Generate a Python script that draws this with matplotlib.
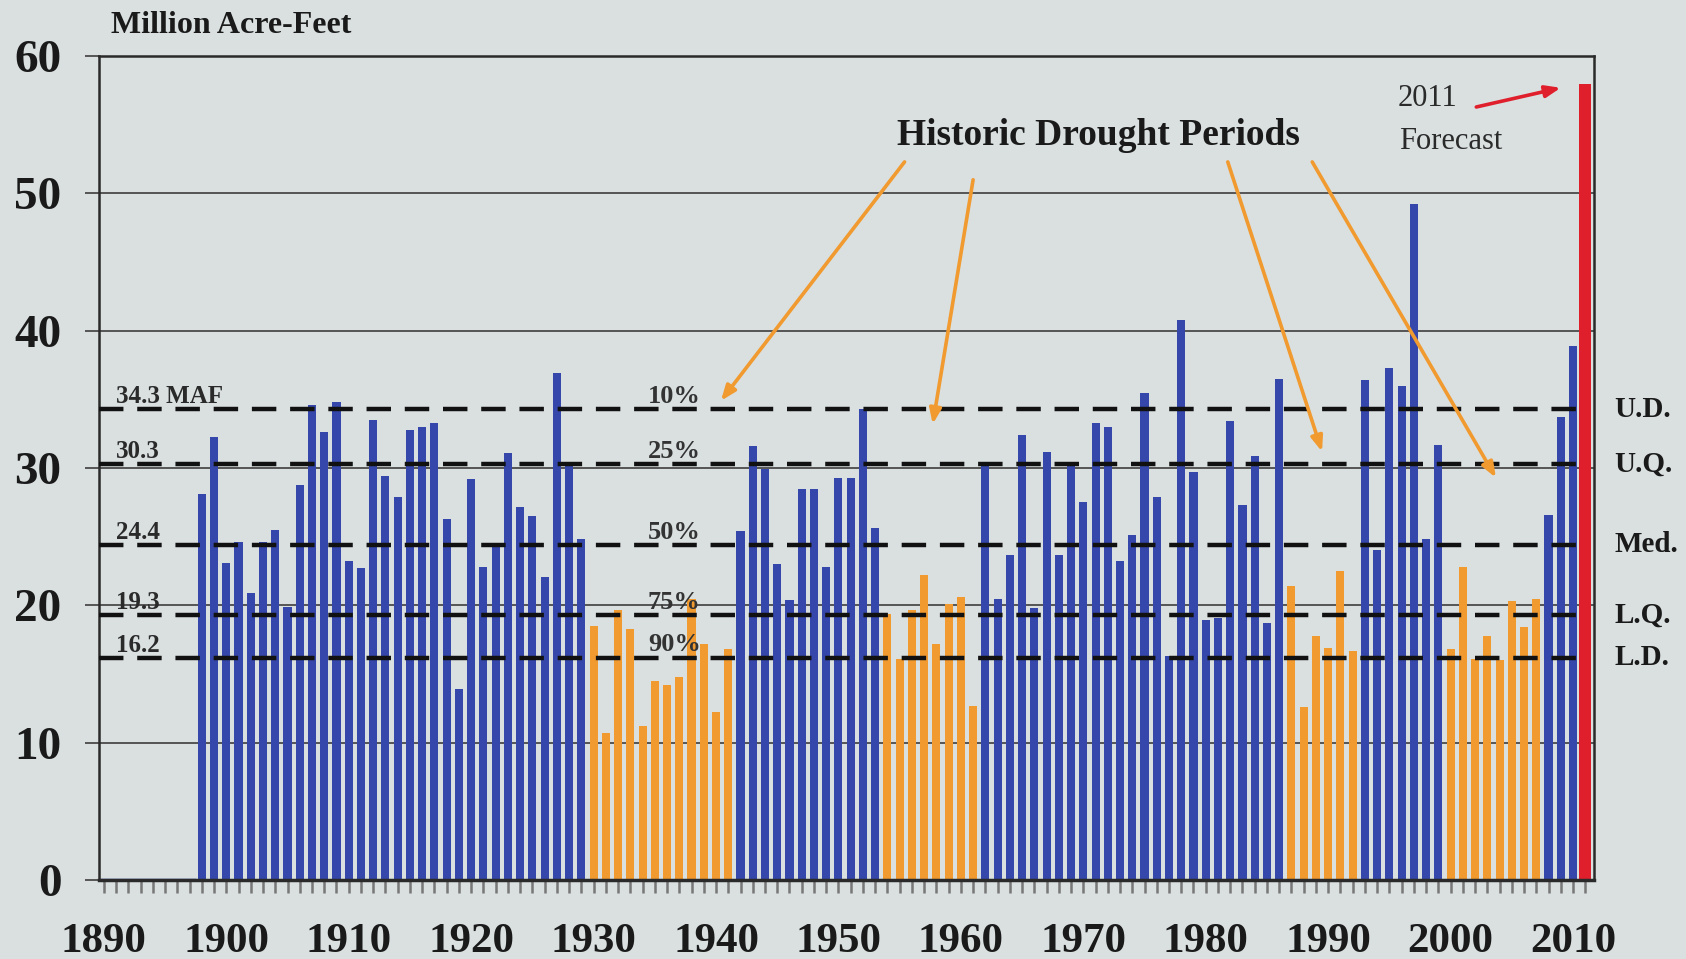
import matplotlib
matplotlib.use("Agg")
import matplotlib.pyplot as plt
import numpy as np

# annual runoff, million acre-feet (1898-2010 observed, 2011 forecast)
years = list(range(1898, 2012))
runoff = [28.1, 32.3, 23.1, 24.6, 20.9, 24.6, 25.5, 19.9, 28.8, 34.6,   # 1898-1907
          32.6, 34.8, 23.2, 22.7, 33.5, 29.4, 27.9, 32.8, 33.0, 33.3,   # 1908-1917
          26.3, 13.9, 29.2, 22.8, 24.3, 31.1, 27.2, 26.5, 22.1, 36.9,   # 1918-1927
          30.2, 24.8, 18.5, 10.7, 19.7, 18.3, 11.2, 14.5, 14.2, 14.8,   # 1928-1937
          20.5, 17.2, 12.2, 16.8, 25.4, 31.6, 29.9, 23.0, 20.4, 28.5,   # 1938-1947
          28.5, 22.8, 29.3, 29.3, 34.3, 25.6, 19.4, 16.1, 19.7, 22.2,   # 1948-1957
          17.2, 20.1, 20.6, 12.7, 30.4, 20.5, 23.7, 32.4, 19.8, 31.2,   # 1958-1967
          23.7, 30.2, 27.5, 33.3, 33.0, 23.2, 25.1, 35.5, 27.9, 16.3,   # 1968-1977
          40.8, 29.7, 18.9, 19.1, 33.4, 27.3, 30.9, 18.7, 36.5, 21.4,   # 1978-1987
          12.6, 17.8, 16.9, 22.5, 16.7, 36.4, 24.0, 37.3, 36.0, 49.2,   # 1988-1997
          24.8, 31.7, 16.8, 22.8, 16.1, 17.8, 16.0, 20.3, 18.4, 20.5,   # 1998-2007
          26.6, 33.7, 38.9, 58.0]                                       # 2008-2011
early_years = list(range(1890, 1898))   # no record, drawn flat on the axis
early_runoff = [0, 0, 0, 0, 0, 0, 0, 0]

drought_periods = [(1930, 1941), (1954, 1961), (1987, 1992), (2000, 2007)]
forecast_year = 2011

ref_values = [34.3, 30.3, 24.4, 19.3, 16.2]
ref_left = ["34.3 MAF", "30.3", "24.4", "19.3", "16.2"]
ref_pct = ["10%", "25%", "50%", "75%", "90%"]
ref_right = ["U.D.", "U.Q.", "Med.", "L.Q.", "L.D."]

BLUE = "#3547aa"
ORANGE = "#f09a30"
RED = "#e01f2d"
BG = "#dae0e0"
SERIF = ["Liberation Serif", "DejaVu Serif"]

colors = []
widths = []
for y in years:
    if y == forecast_year:
        colors.append(RED)
        widths.append(0.95)
    elif any(a <= y <= b for a, b in drought_periods):
        colors.append(ORANGE)
        widths.append(0.66)
    else:
        colors.append(BLUE)
        widths.append(0.66)

fig = plt.figure(figsize=(16.86, 9.59), dpi=100, facecolor=BG)
ax = fig.add_axes([0.0587, 0.0824, 0.887, 0.859])
ax.set_facecolor(BG)

ax.bar(early_years, early_runoff, width=1.0, color=BLUE, edgecolor=BLUE, linewidth=2.5, zorder=2)
ax.bar(years, runoff, width=widths, color=colors, zorder=2)

ax.set_xlim(1889.6, 2011.75)
ax.set_ylim(0, 60)

# grid
ax.set_yticks(np.arange(0, 61, 10))
ax.yaxis.grid(True, color="#4a4a4a", linewidth=1.3, zorder=1)
ax.set_axisbelow(True)
ax.tick_params(axis="y", length=10, width=1.3, color="#4a4a4a", pad=17)
ax.set_xticks(np.arange(1890, 2011, 10))
ax.set_xticks(np.arange(1890, 2012, 1), minor=True)
ax.tick_params(axis="x", which="both", length=9, width=1.8, color="#777777", pad=22)
for lbl in ax.get_yticklabels() + ax.get_xticklabels():
    lbl.set_family(SERIF)
    lbl.set_fontweight("bold")
    lbl.set_color("#1a1a1a")
for lbl in ax.get_yticklabels():
    lbl.set_fontsize(34)
for lbl in ax.get_xticklabels():
    lbl.set_fontsize(31)
for s in ax.spines.values():
    s.set_color("#2a2a2a")
    s.set_linewidth(1.8)
ax.spines["bottom"].set_linewidth(2.5)

# reference (percentile) lines
for v, l1, l2, l3 in zip(ref_values, ref_left, ref_pct, ref_right):
    ax.plot([1889.6, 2010.4], [v, v], color="#111111", linewidth=3.2,
            linestyle=(0, (5.5, 3.1)), zorder=3)
    ax.text(1891.0, v + 0.05, l1, family=SERIF, fontsize=18, fontweight="bold",
            color="#2a2a2a", ha="left", va="bottom", zorder=4)
    ax.text(1936.6, v + 0.1, l2, family=SERIF, fontsize=19, fontweight="bold",
            color="#333333", ha="center", va="bottom", zorder=4)
    ax.text(2013.4, v, l3, family=SERIF, fontsize=21, fontweight="bold",
            color="#1a1a1a", ha="left", va="center", clip_on=False)

ax.text(0.008, 1.02, "Million Acre-Feet", transform=ax.transAxes, family=SERIF,
        fontsize=23, fontweight="bold", color="#1a1a1a", ha="left", va="bottom")

# drought period annotation
ax.text(1971.2, 54.2, "Historic Drought Periods", family=SERIF, fontsize=27,
        fontweight="bold", color="#1a1a1a", ha="center", va="center")
arrow_ends = [((1955.4, 52.3), (1940.4, 34.9)),
              ((1961.0, 51.0), (1957.7, 33.2)),
              ((1981.8, 52.3), (1989.5, 31.2)),
              ((1988.7, 52.3), (2003.7, 29.3))]
for start, end in arrow_ends:
    ax.annotate("", xy=end, xytext=start,
                arrowprops=dict(arrowstyle="-|>,head_length=0.9,head_width=0.35",
                                color=ORANGE, lw=2.6, shrinkA=0, shrinkB=0))

# forecast label
ax.text(1998.1, 56.9, "2011", family=SERIF, fontsize=22, color="#2a2a2a",
        ha="center", va="center")
ax.text(2000.0, 53.8, "Forecast", family=SERIF, fontsize=22, color="#2a2a2a",
        ha="center", va="center")
ax.annotate("", xy=(2009.0, 57.7), xytext=(2002.1, 56.3),
            arrowprops=dict(arrowstyle="-|>,head_length=0.9,head_width=0.35",
                            color=RED, lw=2.6, shrinkA=0, shrinkB=0))

fig.savefig("out.png", dpi=100, facecolor=BG)
